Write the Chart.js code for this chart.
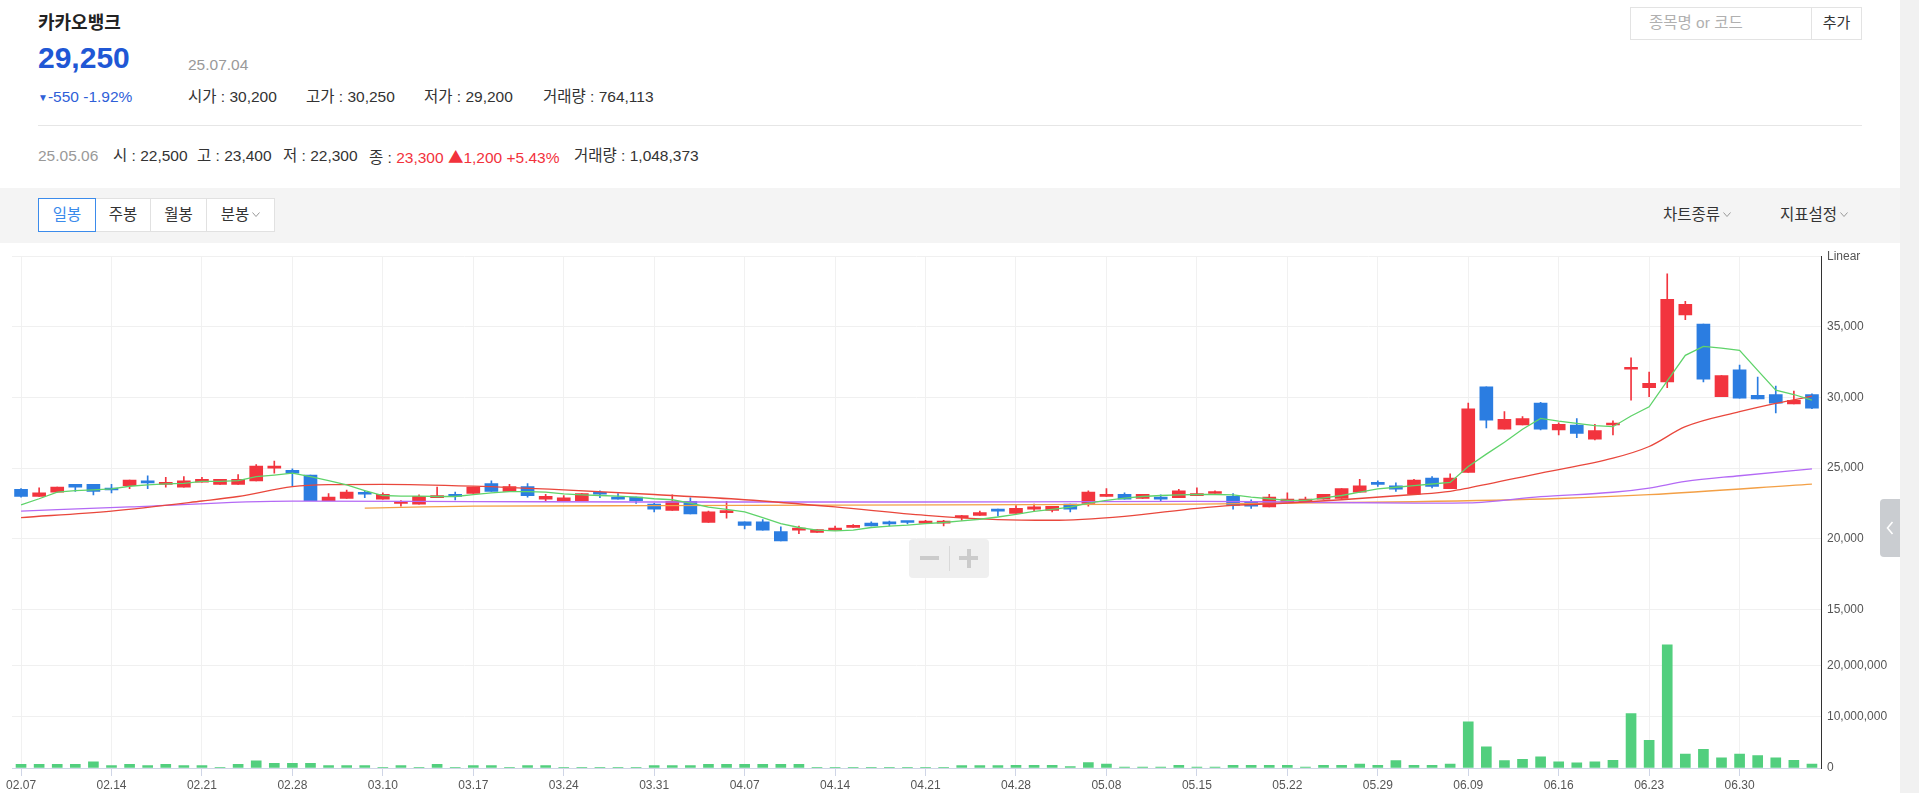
<!DOCTYPE html>
<html lang="ko">
<head>
<meta charset="utf-8">
<title>카카오뱅크 일봉 차트</title>
<script src="https://cdn.jsdelivr.net/npm/chart.js@4.4.1/dist/chart.umd.min.js"></script>
<style>
  body {
    margin: 0; width: 1919px; height: 793px; overflow: hidden; position: relative; background: #fff;
    font-family: 'Liberation Sans', Arial, 'Noto Sans CJK KR', sans-serif; color: #333;
  }
  .t { position: absolute; white-space: nowrap; font-size: 15.5px; line-height: 20px; }
  .tab {
    position: absolute; top: 198px; height: 34px; box-sizing: border-box; border: 1px solid #e1e1e1;
    background: #fff; font-size: 15.5px; line-height: 32px; text-align: center; color: #333;
  }
  .tab.on { border-color: #3b8beb; color: #3b8beb; z-index: 2; }
  .chev { display: inline-block; width: 8px; height: 5px; margin-left: 3px; vertical-align: 3px; }
</style>
</head>
<body>

<div class="t" style="left:38px;top:10px;font-size:18px;line-height:22px;font-weight:bold;color:#222;font-family:'Noto Sans CJK KR',sans-serif;">카카오뱅크</div>
<div class="t" style="left:38px;top:41px;font-size:30px;line-height:34px;font-weight:bold;color:#2057d5;">29,250</div>
<div class="t" style="left:188px;top:55px;color:#999;">25.07.04</div>

<div class="t" style="left:38px;top:87px;color:#2f5fd8;"><span style="font-size:10px;vertical-align:1px;">▼</span>-550 -1.92%</div>
<div class="t" style="left:188px;top:87px;">시가 : 30,200</div>
<div class="t" style="left:306px;top:87px;">고가 : 30,250</div>
<div class="t" style="left:424px;top:87px;">저가 : 29,200</div>
<div class="t" style="left:543px;top:87px;">거래량 : 764,113</div>

<div style="position:absolute;left:38px;top:125px;width:1824px;height:1px;background:#e6e6e6;"></div>

<div class="t" style="left:38px;top:146px;color:#999;">25.05.06</div>
<div class="t" style="left:113px;top:146px;">시 : 22,500</div>
<div class="t" style="left:197px;top:146px;">고 : 23,400</div>
<div class="t" style="left:283px;top:146px;">저 : 22,300</div>
<div class="t" style="left:369px;top:146px;">종 : <span style="color:#f2323c;">23,300 <span style="font-family:'Noto Sans CJK KR';">▲</span>1,200 +5.43%</span></div>
<div class="t" style="left:574px;top:146px;">거래량 : 1,048,373</div>

<!-- search box -->
<div style="position:absolute;left:1630px;top:7px;width:232px;height:33px;box-sizing:border-box;border:1px solid #e3e3e3;background:#fff;">
  <div class="t" style="left:18px;top:5px;font-size:15.5px;color:#b0b0b0;">종목명 or 코드</div>
  <div style="position:absolute;left:180px;top:0;width:1px;height:31px;background:#e3e3e3;"></div>
  <div class="t" style="left:181px;top:5px;width:49px;text-align:center;font-size:15px;color:#333;">추가</div>
</div>

<!-- toolbar -->
<div style="position:absolute;left:0;top:188px;width:1900px;height:55px;background:#f4f4f4;"></div>
<div class="tab on" style="left:38px;width:58px;">일봉</div>
<div class="tab" style="left:95px;width:56px;">주봉</div>
<div class="tab" style="left:150px;width:57px;">월봉</div>
<div class="tab" style="left:206px;width:69px;">분봉<svg class="chev" viewBox="0 0 8 5"><polyline points="0.5,0.5 4,4.5 7.5,0.5" fill="none" stroke="#999" stroke-width="1"/></svg></div>
<div class="t" style="left:1663px;top:205px;">차트종류<svg class="chev" viewBox="0 0 8 5"><polyline points="0.5,0.5 4,4.5 7.5,0.5" fill="none" stroke="#999" stroke-width="1"/></svg></div>
<div class="t" style="left:1780px;top:205px;">지표설정<svg class="chev" viewBox="0 0 8 5"><polyline points="0.5,0.5 4,4.5 7.5,0.5" fill="none" stroke="#999" stroke-width="1"/></svg></div>

<!-- chart -->
<div style="position:absolute;left:0;top:243px;width:1900px;height:550px;">
  <canvas id="graphique-cours" width="1900" height="550"></canvas>
</div>

<!-- zoom buttons over the chart -->
<div style="position:absolute;left:909px;top:539px;width:80px;height:39px;background:#efefef;border-radius:4px;">
  <div style="position:absolute;left:11px;top:17px;width:19px;height:4px;background:#cbcbcb;"></div>
  <div style="position:absolute;left:40px;top:7px;width:1px;height:25px;background:#d9d9d9;"></div>
  <div style="position:absolute;left:50px;top:17px;width:19px;height:4px;background:#cbcbcb;"></div>
  <div style="position:absolute;left:57.5px;top:10px;width:4px;height:19px;background:#cbcbcb;"></div>
</div>

<div style="position:absolute;left:1880px;top:499px;width:20px;height:58px;background:#cacdd1;border-radius:4px 0 0 4px;">
  <svg style="position:absolute;left:6px;top:22px;" width="8" height="14" viewBox="0 0 8 14"><polyline points="6.5,1 1.5,7 6.5,13" fill="none" stroke="#fff" stroke-width="1.6"/></svg>
</div>
<div style="position:absolute;left:1900px;top:0;width:19px;height:793px;background:#f1f1f1;"></div>

<script>
const dates = [
    "02.07", "02.10", "02.11", "02.12", "02.13", "02.14", "02.17", "02.18", "02.19", "02.20",
    "02.21", "02.24", "02.25", "02.26", "02.27", "02.28", "03.04", "03.05", "03.06", "03.07",
    "03.10", "03.11", "03.12", "03.13", "03.14", "03.17", "03.18", "03.19", "03.20", "03.21",
    "03.24", "03.25", "03.26", "03.27", "03.28", "03.31", "04.01", "04.02", "04.03", "04.04",
    "04.07", "04.08", "04.09", "04.10", "04.11", "04.14", "04.15", "04.16", "04.17", "04.18",
    "04.21", "04.22", "04.23", "04.24", "04.25", "04.28", "04.29", "04.30", "05.02", "05.07",
    "05.08", "05.09", "05.12", "05.13", "05.14", "05.15", "05.16", "05.19", "05.20", "05.21",
    "05.22", "05.23", "05.26", "05.27", "05.28", "05.29", "05.30", "06.02", "06.04", "06.05",
    "06.09", "06.10", "06.11", "06.12", "06.13", "06.16", "06.17", "06.18", "06.19", "06.20",
    "06.23", "06.24", "06.25", "06.26", "06.27", "06.30", "07.01", "07.02", "07.03", "07.04"
];

const opens = [
    23500, 23000, 23300, 23850, 23850, 23500, 23750, 24050, 23850, 23650,
    24000, 23850, 23850, 24100, 25000, 24850, 24500, 22700, 22850, 23200,
    22800, 22500, 22450, 22900, 23050, 23200, 23900, 23350, 23700, 22800,
    22700, 22700, 23200, 22950, 22950, 22450, 22000, 22650, 21150, 21850,
    21200, 21200, 20500, 20600, 20450, 20600, 20800, 21100, 21100, 21200,
    21100, 21100, 21500, 21650, 22000, 21800, 22100, 22000, 22450, 22500,
    23000, 23150, 22850, 22900, 22900, 23050, 23200, 23000, 22600, 22250,
    22600, 22600, 22800, 22850, 23300, 23900, 23750, 23150, 24300, 23550,
    24700, 30750, 27750, 28050, 29600, 27700, 28050, 27050, 28050, 32000,
    30700, 31100, 35850, 35200, 30050, 31950, 30150, 30200, 29550, 30200
];
const highs = [
    23550, 23600, 23650, 23850, 23850, 23850, 24150, 24450, 24350, 24400,
    24350, 24200, 24550, 25250, 25500, 24950, 24500, 23200, 23450, 23400,
    23250, 22700, 23100, 23650, 23300, 23650, 24100, 23850, 23900, 23150,
    23050, 23200, 23400, 23200, 22950, 22500, 23100, 22900, 21950, 22650,
    21200, 21350, 20850, 20900, 20650, 20900, 21000, 21200, 21250, 21200,
    21300, 21300, 21650, 21950, 22100, 22350, 22450, 22300, 22450, 23400,
    23550, 23250, 23150, 23100, 23500, 23600, 23400, 23200, 22750, 23150,
    23250, 22950, 23150, 23550, 24200, 24100, 23950, 24200, 24400, 24600,
    29600, 30750, 29000, 28650, 29650, 28200, 28500, 28100, 28350, 32800,
    31800, 38750, 36800, 35200, 31550, 32300, 31450, 30800, 30450, 30250
];
const lows = [
    22950, 23000, 23300, 23350, 23100, 23250, 23550, 23550, 23650, 23650,
    24000, 23850, 23850, 24100, 24650, 23750, 22700, 22700, 22850, 22900,
    22800, 22300, 22450, 22900, 22750, 23200, 23350, 23350, 22950, 22650,
    22700, 22700, 22900, 22800, 22500, 21900, 22000, 21750, 21150, 21450,
    20700, 20600, 19850, 20350, 20450, 20600, 20800, 20900, 20900, 21050,
    21100, 20900, 21300, 21650, 21600, 21800, 21950, 21900, 21900, 22300,
    23000, 22800, 22850, 22700, 22900, 23050, 23200, 22100, 22150, 22250,
    22600, 22600, 22800, 22850, 23300, 23700, 23350, 23150, 23600, 23550,
    24700, 27850, 27750, 28050, 27700, 27350, 27150, 27000, 27350, 29800,
    30050, 30700, 35500, 31100, 30050, 29950, 29900, 28900, 29550, 29200
];
const closes = [
    23000, 23250, 23650, 23650, 23350, 23450, 24150, 23950, 24000, 24100,
    24200, 24200, 24200, 25150, 25100, 24650, 22700, 22950, 23300, 23150,
    23150, 22600, 23000, 23050, 23000, 23650, 23350, 23700, 23050, 23000,
    22900, 23200, 23150, 22800, 22700, 22100, 22650, 21750, 21900, 22000,
    20950, 20600, 19850, 20750, 20650, 20750, 20950, 20900, 21050, 21150,
    21250, 21200, 21600, 21850, 21950, 22150, 22250, 22300, 22100, 23300,
    23150, 22800, 23150, 22800, 23400, 23200, 23300, 22350, 22300, 22950,
    22800, 22800, 23150, 23550, 23750, 23850, 23500, 24150, 23700, 24300,
    29200, 28400, 28450, 28500, 27750, 28100, 27450, 27650, 28150, 32050,
    31000, 36950, 36600, 31300, 31550, 29950, 29900, 29600, 29800, 29250
];
const volumes = [
    700000, 700000, 700000, 700000, 1200000, 450000, 700000, 450000, 700000, 450000,
    450000, 150000, 700000, 1400000, 900000, 900000, 900000, 450000, 450000, 450000,
    150000, 450000, 150000, 700000, 150000, 450000, 450000, 150000, 450000, 450000,
    150000, 150000, 150000, 150000, 150000, 450000, 450000, 450000, 700000, 700000,
    700000, 700000, 700000, 700000, 150000, 150000, 150000, 150000, 150000, 150000,
    150000, 150000, 450000, 450000, 450000, 500000, 500000, 500000, 300000, 1048373,
    750000, 200000, 200000, 200000, 500000, 200000, 200000, 500000, 500000, 500000,
    500000, 200000, 500000, 500000, 750000, 500000, 1450000, 500000, 500000, 750000,
    9000000, 4100000, 1450000, 1700000, 2200000, 1200000, 1000000, 1200000, 1500000, 10600000,
    5400000, 24000000, 2700000, 3650000, 1970000, 2700000, 2400000, 1970000, 1500000, 764113
];
const volumeTicks = [0, 10000000, 20000000];

// moyennes mobiles
const ma5 = [
    22400, 22830, 23300, 23410, 23460, 23530, 23715, 23810, 23880, 23925,
    24065, 24065, 24110, 24390, 24510, 24650, 24390, 24110, 23810, 23410,
    23060, 23015, 23015, 22990, 22990, 23120, 23250, 23340, 23340, 23295,
    23180, 23110, 23060, 23015, 22945, 22830, 22760, 22525, 22245, 22080,
    21895, 21500, 21075, 20795, 20610, 20560, 20610, 20795, 20890, 20960,
    21075, 21150, 21260, 21380, 21540, 21730, 21940, 22080, 22245, 22525,
    22710, 22875, 22990, 23060, 23110, 23130, 23130, 23110, 22945, 22830,
    22710, 22710, 22900, 23060, 23295, 23530, 23645, 23760, 23875, 23990,
    25120, 25990, 26830, 27750, 28520, 28330, 28170, 28000, 27930, 28690,
    29340, 31170, 32980, 33610, 33500, 33330, 31920, 30520, 30210, 29810
];
const ma20 = [
    ["02.07", 21500], ["02.14", 21960], ["02.21", 22670], ["02.25", 22990], ["02.28", 23690],
    ["03.05", 23830], ["03.10", 23850], ["03.17", 23720], ["03.24", 23460], ["03.31", 23130],
    ["04.07", 22760], ["04.14", 22250], ["04.21", 21660], ["04.25", 21360], ["04.30", 21310],
    ["05.09", 21590], ["05.15", 22150], ["05.19", 22360], ["05.22", 22530], ["05.27", 22760],
    ["06.02", 23130], ["06.05", 23360], ["06.09", 23590], ["06.13", 24650], ["06.19", 25700],
    ["06.23", 26530], ["06.25", 27930], ["06.30", 28990], ["07.02", 29580], ["07.04", 30090]
];
const ma60 = [
    ["02.07", 21960], ["02.17", 22250], ["02.28", 22660], ["03.17", 22630], ["03.31", 22600],
    ["04.14", 22600], ["04.28", 22610], ["05.15", 22650], ["05.22", 22600], ["06.02", 22520],
    ["06.09", 22540], ["06.13", 22980], ["06.19", 23290], ["06.23", 23590], ["06.25", 24060],
    ["06.30", 24460], ["07.04", 24950]
];
const ma120 = [
    ["03.07", 22170], ["03.17", 22310], ["03.31", 22340], ["04.22", 22400], ["05.15", 22450],
    ["06.02", 22620], ["06.16", 22850], ["06.23", 23120], ["07.04", 23870]
];

const ROUGE = "#f2343e";
const BLEU = "#2b7de1";
const POLICE = "'Liberation Sans', Arial, sans-serif";

function enPoints(liste) {
    return liste.map(p => ({ x: p[0], y: p[1] }));
}

function ligneMoyenne(label, data, couleur, ordre, lisse) {
    return {
        type: "line",
        label: label,
        data: data,
        yAxisID: "y",
        borderColor: couleur,
        borderWidth: 1.3,
        pointRadius: 0,
        spanGaps: true,
        cubicInterpolationMode: lisse ? "monotone" : "default",
        tension: 0,
        order: ordre,
    };
}

const couleursBougies = closes.map((c, i) => (c >= opens[i] ? ROUGE : BLEU));

const data = {
    labels: dates,
    datasets: [
        ligneMoyenne("5", ma5, "#5fd36a", 0, false),
        ligneMoyenne("20", enPoints(ma20), "#e9473c", 1, true),
        ligneMoyenne("60", enPoints(ma60), "#b46af5", 2, true),
        ligneMoyenne("120", enPoints(ma120), "#f3a046", 3, true),
        {
            type: "bar",
            label: "corps",
            data: opens.map((o, i) => [o, closes[i]]),
            yAxisID: "y",
            backgroundColor: couleursBougies,
            barThickness: 13,
            minBarLength: 2,
            grouped: false,
            order: 5,
        },
        {
            type: "bar",
            label: "meche",
            data: lows.map((l, i) => [l, highs[i]]),
            yAxisID: "y",
            backgroundColor: couleursBougies,
            barThickness: 1,
            grouped: false,
            order: 6,
        },
        {
            type: "bar",
            label: "거래량",
            data: volumes,
            yAxisID: "yv",
            backgroundColor: "#52cf7e",
            barThickness: 10,
            grouped: false,
            order: 7,
        }
    ]
};

const config = {
    data: data,
    options: {
        responsive: false,
        animation: false,
        events: [],
        layout: { padding: { left: 12, top: 12, right: 0, bottom: 0 } },
        plugins: { legend: { display: false }, tooltip: { enabled: false } },
        scales: {
            x: {
                type: "category",
                offset: true,
                grid: { offset: false, color: "#f1f1f1", tickColor: "#cfd5e6", tickLength: 8 },
                border: { color: "#cfd5e6" },
                ticks: { autoSkip: false, maxRotation: 0, padding: 2, color: "#555", font: { size: 12, family: POLICE } },
                afterBuildTicks: s => { s.ticks = s.ticks.filter(t => t.value % 5 === 0); },
                afterFit: s => { s.height = 25; }
            },
            y: {
                position: "right",
                stack: "panneaux",
                stackWeight: 354,
                min: 15000,
                max: 40000,
                grid: { color: "#f0f0f0", drawTicks: false },
                border: { color: "#333" },
                ticks: {
                    stepSize: 5000, padding: 6, color: "#555", font: { size: 12, family: POLICE },
                    callback: v => (v === 40000 ? "Linear" : v.toLocaleString("en-US"))
                },
                afterFit: s => { s.width = 79; }
            },
            yv: {
                position: "right",
                stack: "panneaux",
                stackWeight: 159,
                min: 0,
                max: 30900000,
                grid: { color: "#f0f0f0", drawTicks: false },
                border: { color: "#333" },
                ticks: {
                    padding: 6, color: "#555", font: { size: 12, family: POLICE },
                    callback: v => v.toLocaleString("en-US")
                },
                afterBuildTicks: s => { s.ticks = volumeTicks.map(v => ({ value: v })); },
                afterFit: s => { s.width = 79; }
            }
        }
    }
};

const ctx = document.querySelector("#graphique-cours").getContext("2d");
new Chart(ctx, config);
</script>
</body>
</html>
